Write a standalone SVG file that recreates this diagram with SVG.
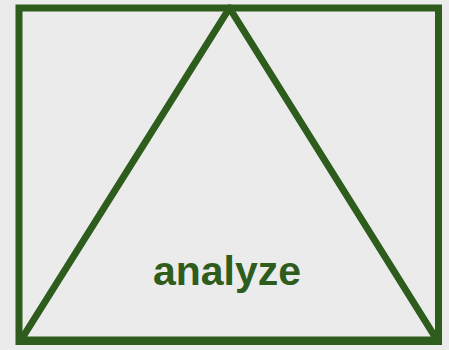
<svg xmlns="http://www.w3.org/2000/svg" width="449" height="350" viewBox="0 0 449 350">
<style>
.shape{fill:none;stroke:#2e5c1c;stroke-width:7}
.tri{stroke-linejoin:round}
.lbl{font-family:"Liberation Sans",Arial,sans-serif;font-weight:bold;font-size:41px;fill:#2e5c1c;text-anchor:middle}
</style>
<rect width="449" height="350" fill="#ebebeb"/>
<g id="frame">
<rect class="shape" x="19" y="8" width="419.5" height="333.5"/>
</g>
<g id="triangle">
<polygon class="shape tri" points="229.5,8 21,340 437,340"/>
<text class="lbl" x="227" y="285">analyze</text>
</g>
</svg>
